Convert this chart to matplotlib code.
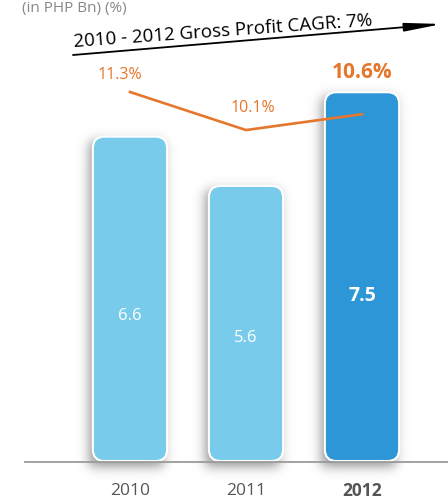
import numpy as np
import matplotlib.pyplot as plt
from matplotlib.patches import FancyBboxPatch

years = ['2010', '2011', '2012']
gross_profit = [6.6, 5.6, 7.5]          # PHP Bn
gross_margin = [11.3, 10.1, 10.6]       # %
bar_colors = ['#79CBEB', '#79CBEB', '#2D96D6']
cagr_text = '2010 - 2012 Gross Profit CAGR: 7%'

orange = '#E5762C'
W, H = 448, 501

fig = plt.figure(figsize=(W / 100, H / 100), dpi=100)
plt.rcParams['font.family'] = ['Open Sans', 'DejaVu Sans']

ax = fig.add_axes([0, 0, 1, 1])
# pixel scale: 116 px between bars, 49.3 px per PHP Bn, baseline 39 px from bottom
px_x, px_y = 116.0, 49.3
xlim = (-130 / px_x, (W - 130) / px_x)
ylim = (-39 / px_y, (H - 39) / px_y)
ax.axis('off')

x = np.arange(len(years))
bw = 0.64
r = 0.1
aspect = px_x / px_y


def sig(t):
    return 1 / (1 + np.exp(-t))


def bar_shadow(xi, h, dx=-4, dy=-5, soft=3.5, strength=0.42, margin=40):
    # blurred box behind a bar, offset left and down (sizes in pixels)
    left, right = xi - bw / 2 + dx / px_x, xi + bw / 2 + dx / px_x
    bottom, top = dy / px_y, h + dy / px_y
    ex = (left - margin / px_x, right + margin / px_x)
    ey = (bottom - margin / px_y, top + margin / px_y)
    nx = int((ex[1] - ex[0]) * px_x)
    ny = int((ey[1] - ey[0]) * px_y)
    X, Y = np.meshgrid(np.linspace(*ex, nx), np.linspace(*ey, ny))
    sx = sig((X - left) * px_x / soft) - sig((X - right) * px_x / soft)
    sy = sig((Y - bottom) * px_y / soft) - sig((Y - top) * px_y / soft)
    rgba = np.zeros((ny, nx, 4))
    rgba[..., 3] = strength * sx * sy
    ax.imshow(rgba, extent=(*ex, *ey), origin='lower', aspect='auto',
              interpolation='bilinear', zorder=1)


for xi, h, c in zip(x, gross_profit, bar_colors):
    bar_shadow(xi, h)
    bar = FancyBboxPatch((xi - bw / 2 + r, 0.02 + r * aspect), bw - 2 * r, h - 0.02 - 2 * r * aspect,
                         boxstyle=f'round,pad={r},rounding_size={r}',
                         mutation_aspect=aspect, fc=c, ec='white', lw=1.5, zorder=2)
    ax.add_patch(bar)

ax.set_xlim(*xlim)
ax.set_ylim(*ylim)

for xi, h, yr in zip(x, gross_profit, years):
    bold = yr == '2012'
    ax.text(xi, h * 0.45, f'{h:.1f}', ha='center', va='center', color='white',
            fontsize=14 if bold else 12, fontweight='bold' if bold else 'normal', zorder=5)
    ax.text(xi, -0.58, yr, ha='center', va='center', color='#555555',
            fontsize=12.5, fontweight='bold' if bold else 'normal')

ax.plot([(25 - 130) / px_x, (W - 130) / px_x], [0, 0], color='#9A9A9A', lw=1.3, zorder=3,
        clip_on=False)

# margin line on a secondary scale
ax2 = fig.add_axes([0, 0, 1, 1], sharex=ax)
ax2.patch.set_alpha(0)
ax2.axis('off')
py2 = 31.7
ax2.set_ylim(11.3 - 409 / py2, 11.3 - 409 / py2 + H / py2)
ax2.plot(x, gross_margin, color=orange, lw=1.9, zorder=6)

label_offsets = [(-7, 12), (5, 16), (0, 30)]
for xi, v, off in zip(x, gross_margin, label_offsets):
    big = xi == 2
    ax2.annotate(f'{v:.1f}%', (xi, v), xytext=off, textcoords='offset points',
                 ha='center', va='center', color=orange,
                 fontsize=15 if big else 11.5, fontweight='bold' if big else 'normal')

# header and CAGR arrow
fig.text(22 / W, 1 - 12 / H, '(in PHP Bn) (%)', color='#888888', fontsize=11,
         ha='left', va='baseline')
fig.text(74 / W, 1 - 47 / H, cagr_text, color='black', fontsize=13.5,
         ha='left', va='baseline', rotation=4.1, rotation_mode='anchor')
ax.annotate('', xy=(442 / W, 1 - 24 / H), xytext=(73 / W, 1 - 55 / H),
            xycoords='figure fraction', textcoords='figure fraction',
            arrowprops=dict(arrowstyle='-|>,head_length=2.2,head_width=0.25',
                            color='black', lw=1.3, shrinkA=0, shrinkB=0))

fig.savefig('out.png', dpi=100)
